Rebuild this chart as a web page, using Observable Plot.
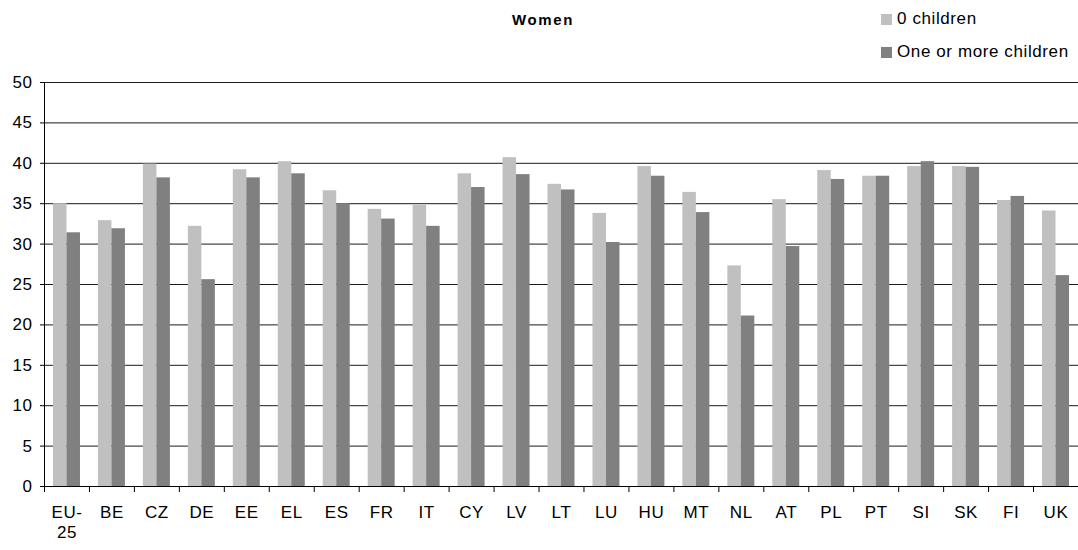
<!DOCTYPE html>
<html>
<head>
<meta charset="utf-8">
<script src="https://cdn.jsdelivr.net/npm/d3@7"></script>
<script src="https://cdn.jsdelivr.net/npm/@observablehq/plot@0.6"></script>
<style>
  body { margin: 0; background: #fff; }
  #wrap { position: relative; width: 1078px; height: 550px; font-family: Arial, "Liberation Sans", sans-serif; color: #000; }
  #title { position: absolute; left: 0; width: 1086px; top: 12px; text-align: center; font-weight: bold; font-size: 15px; line-height: 15px; letter-spacing: 1.6px; }
  .leg { position: absolute; left: 881px; font-size: 17px; line-height: 17px; letter-spacing: 0.6px; white-space: nowrap; }
  .leg span.sw { display: inline-block; width: 11px; height: 11px; margin-right: 5px; vertical-align: -1px; }
  #chart { position: absolute; left: 0; top: 70px; }
  #chart svg { font-family: Arial, "Liberation Sans", sans-serif; letter-spacing: 0.6px; }
</style>
</head>
<body>
<div id="wrap">
  <div id="title"></div>
  <div class="leg" id="leg0" style="top:10px"></div>
  <div class="leg" id="leg1" style="top:43px"></div>
  <div id="chart"></div>
</div>
<script>
// ---- data ----
const titleText = "Women";
const categories = ["EU-25","BE","CZ","DE","EE","EL","ES","FR","IT","CY","LV","LT","LU","HU","MT","NL","AT","PL","PT","SI","SK","FI","UK"];
const categoryLabels = ["EU-\n25","BE","CZ","DE","EE","EL","ES","FR","IT","CY","LV","LT","LU","HU","MT","NL","AT","PL","PT","SI","SK","FI","UK"];
const seriesNames = ["0 children", "One or more children"];
const seriesColors = ["#c0c0c0", "#808080"];
const noChildren   = [35.0,32.9,39.9,32.2,39.2,40.2,36.6,34.3,34.8,38.7,40.7,37.4,33.8,39.6,36.4,27.3,35.5,39.1,38.4,39.6,39.6,35.4,34.1];
const withChildren = [31.4,31.9,38.2,25.6,38.2,38.7,35.0,33.1,32.2,37.0,38.6,36.7,30.2,38.4,33.9,21.1,29.7,38.0,38.4,40.2,39.5,35.9,26.1];
const yTicks = [0,5,10,15,20,25,30,35,40,45,50];

// ---- header ----
document.getElementById("title").textContent = titleText;
seriesNames.forEach((name, i) => {
  const el = document.getElementById("leg" + i);
  const sw = document.createElement("span");
  sw.className = "sw";
  sw.style.background = seriesColors[i];
  el.appendChild(sw);
  el.appendChild(document.createTextNode(name));
});

// ---- chart ----
const W = 1078, H = 480, mL = 44, mR = 0, mT = 12, mB = 64;
const bw = (W - mL - mR) / categories.length;
const barW = 13.5;
const labelOf = new Map(categories.map((c, i) => [c, categoryLabels[i]]));

const rows0 = categories.map((c, i) => ({cat: c, v: noChildren[i]}));
const rows1 = categories.map((c, i) => ({cat: c, v: withChildren[i]}));

const chart = Plot.plot({
  width: W, height: H,
  marginLeft: mL, marginRight: mR, marginTop: mT, marginBottom: mB,
  style: {fontSize: "17px", fontFamily: "Arial, 'Liberation Sans', sans-serif", background: "#fff", color: "#000"},
  x: {type: "band", domain: categories, padding: 0, round: false, label: null},
  y: {domain: [0, 50], label: null, ticks: yTicks},
  marks: [
    Plot.ruleY(yTicks.filter(t => t > 0), {stroke: "#1a1a1a", strokeWidth: 1}),
    Plot.barY(rows0, {x: "cat", y: "v", fill: seriesColors[0], insetLeft: bw / 2 - barW, insetRight: bw / 2}),
    Plot.barY(rows1, {x: "cat", y: "v", fill: seriesColors[1], insetLeft: bw / 2, insetRight: bw / 2 - barW}),
    Plot.ruleY([0], {stroke: "#000", strokeWidth: 1}),
    Plot.frame({anchor: "left", stroke: "#000"}),
    Plot.axisY({ticks: yTicks, tickSize: 4, tickPadding: 8, stroke: "#000", label: null, tickFormat: d => String(d)}),
    Plot.axisX({tickSize: 6, text: null, dx: -bw / 2, stroke: "#000", label: null}),
    Plot.axisX({tickSize: 0, tickPadding: 17, lineHeight: 1.2, tickFormat: d => labelOf.get(d), label: null})
  ]
});
document.getElementById("chart").appendChild(chart);
</script>
</body>
</html>
